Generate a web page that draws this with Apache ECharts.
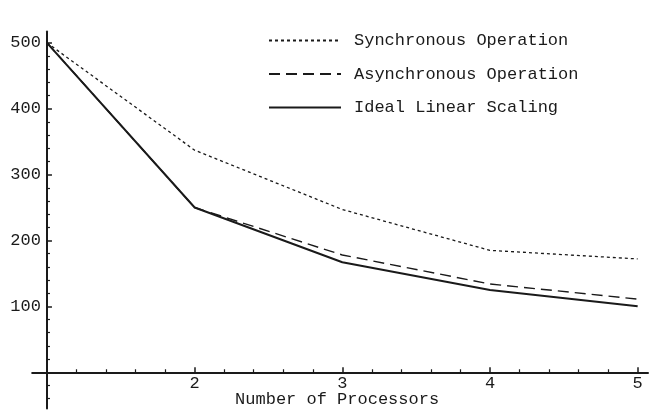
<!DOCTYPE html>
<html>
<head>
<meta charset="utf-8">
<script src="https://cdn.jsdelivr.net/npm/echarts@6/dist/echarts.min.js"></script>
<style>
  html, body { margin: 0; padding: 0; background: #fff; }
  #chart { width: 651px; height: 417px; }
</style>
</head>
<body>
<div id="chart"></div>
<script>
// data
const processors = [1, 2, 3, 4, 5];
const synchronous = [500, 337, 247, 185, 172];
const asynchronous = [500, 250, 178, 134, 111];
const ideal = [500, 250, 167, 125, 100];

const xMajor = [2, 3, 4, 5];
const xMinor = [1.2, 1.4, 1.6, 1.8, 2.2, 2.4, 2.6, 2.8, 3.2, 3.4, 3.6, 3.8, 4.2, 4.4, 4.6, 4.8];
const yMajor = [100, 200, 300, 400, 500];
const yMinor = [-40, -20, 20, 40, 60, 80, 120, 140, 160, 180, 220, 240, 260, 280,
  320, 340, 360, 380, 420, 440, 460, 480];

const ink = '#1a1a1a';
const font = 'Liberation Mono';
const W = 651, H = 417;
const xMin = 0.9, xMax = 5.07;
const yMin = -55, yMax = 517;
const gridLeft = 32.2, gridRight = 3, gridTop = 31.6, gridBottom = 8.5;
// y axis sits at x = 1, x axis sits at y = 0
const yOffset = -((1 - xMin) / (xMax - xMin)) * (W - gridLeft - gridRight);
const xOffset = -((0 - yMin) / (yMax - yMin)) * (H - gridTop - gridBottom);

const chart = echarts.init(document.getElementById('chart'));

const toPairs = arr => processors.map((p, i) => [p, arr[i]]);

chart.setOption({
  animation: false,
  backgroundColor: '#fff',
  textStyle: { fontFamily: font, color: ink },
  grid: { left: gridLeft, right: gridRight, top: gridTop, bottom: gridBottom, containLabel: false, outerBoundsMode: 'none' },
  legend: {
    orient: 'vertical',
    left: 263,
    top: 27,
    itemWidth: 72,
    itemHeight: 16,
    itemGap: 16.5,
    itemStyle: { opacity: 0, color: 'transparent', borderWidth: 0 },
    textStyle: { fontFamily: font, fontSize: 17, color: ink, padding: [0, 0, 0, 8] },
    data: ['Synchronous Operation', 'Asynchronous Operation', 'Ideal Linear Scaling']
  },
  xAxis: [
    {
      type: 'value',
      min: xMin,
      max: xMax,
      position: 'bottom',
      offset: xOffset,
      axisLine: { onZero: false, lineStyle: { color: ink, width: 2 } },
      axisTick: { inside: true, length: 5, customValues: xMajor, lineStyle: { color: ink, width: 1.5 } },
      axisLabel: { customValues: xMajor, fontFamily: font, fontSize: 17, color: ink, margin: 3 },
      splitLine: { show: false },
      name: 'Number of Processors',
      nameLocation: 'middle',
      nameGap: 19,
      nameMoveOverlap: false,
      nameTextStyle: { fontFamily: font, fontSize: 17, color: ink, padding: [0, 6, 0, 0] }
    },
    {
      type: 'value',
      min: xMin,
      max: xMax,
      position: 'bottom',
      offset: xOffset,
      axisLine: { show: false, onZero: false },
      axisTick: { inside: true, length: 3, customValues: xMinor, lineStyle: { color: ink, width: 1.2 } },
      axisLabel: { show: false },
      splitLine: { show: false }
    }
  ],
  yAxis: [
    {
      type: 'value',
      min: yMin,
      max: yMax,
      position: 'left',
      offset: yOffset,
      axisLine: { show: true, onZero: false, lineStyle: { color: ink, width: 2 } },
      axisTick: { show: true, inside: true, length: 5, customValues: yMajor, lineStyle: { color: ink, width: 1.5 } },
      axisLabel: { customValues: yMajor, fontFamily: font, fontSize: 17, color: ink, margin: 6 },
      splitLine: { show: false }
    },
    {
      type: 'value',
      min: yMin,
      max: yMax,
      position: 'left',
      offset: yOffset,
      axisLine: { show: false, onZero: false },
      axisTick: { show: true, inside: true, length: 3, customValues: yMinor, lineStyle: { color: ink, width: 1.2 } },
      axisLabel: { show: false },
      splitLine: { show: false }
    }
  ],
  series: [
    {
      name: 'Synchronous Operation',
      type: 'line',
      symbol: 'none',
      data: toPairs(synchronous),
      lineStyle: { color: ink, width: 1.3, type: [3, 3] },
      itemStyle: { color: ink }
    },
    {
      name: 'Asynchronous Operation',
      type: 'line',
      symbol: 'none',
      data: toPairs(asynchronous),
      lineStyle: { color: ink, width: 1.4, type: [11, 6] },
      itemStyle: { color: ink }
    },
    {
      name: 'Ideal Linear Scaling',
      type: 'line',
      symbol: 'none',
      data: toPairs(ideal),
      lineStyle: { color: ink, width: 2 },
      itemStyle: { color: ink }
    }
  ]
});

window.addEventListener('resize', () => chart.resize());
</script>
</body>
</html>
